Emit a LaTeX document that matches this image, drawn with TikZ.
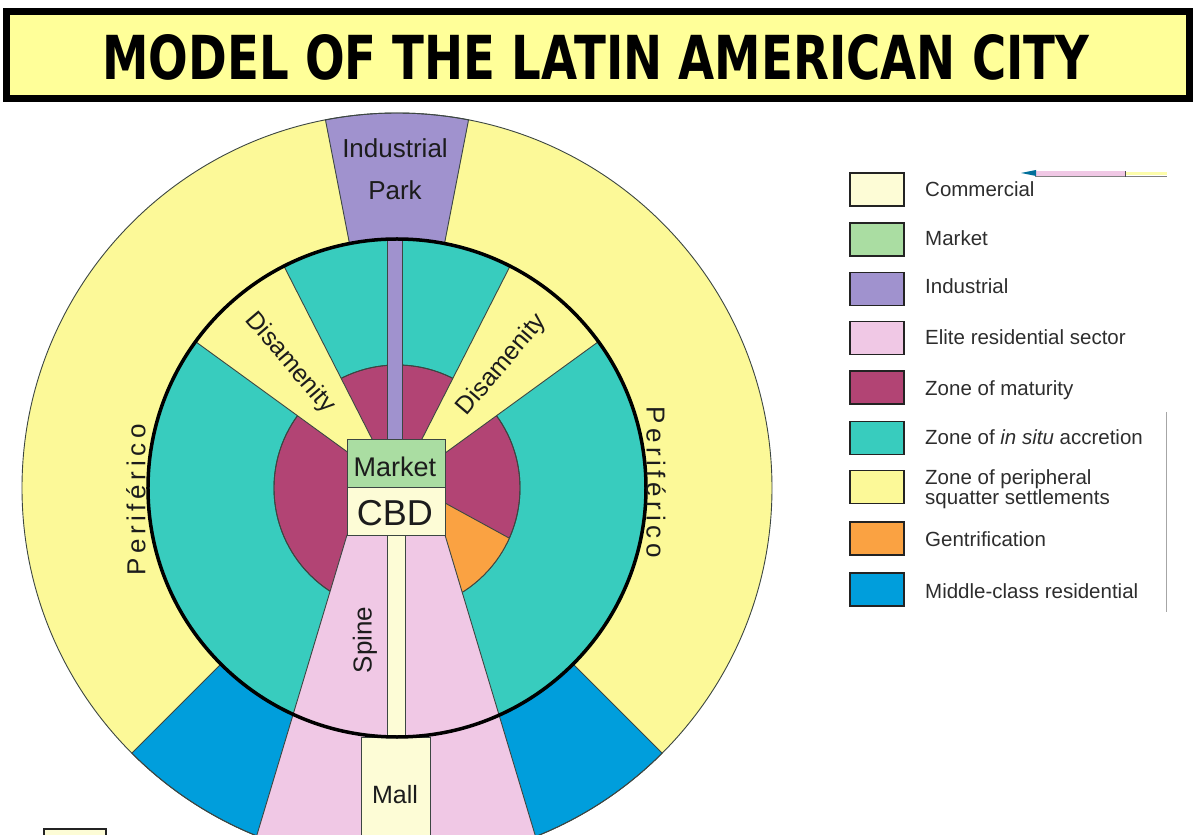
\documentclass[tikz,border=0pt]{standalone}
\usepackage{fontspec}
\usepackage{graphicx}
\setmainfont{Liberation Sans}
\newfontfamily\titlefont{DejaVu Sans}
\definecolor{titleyellow}{RGB}{255,255,153}
\definecolor{ringyellow}{RGB}{252,249,152}
\definecolor{industrial}{RGB}{160,146,206}
\definecolor{middleblue}{RGB}{0,158,220}
\definecolor{insitu}{RGB}{56,204,190}
\definecolor{maturity}{RGB}{178,68,116}
\definecolor{gentri}{RGB}{250,162,66}
\definecolor{elite}{RGB}{240,200,229}
\definecolor{commercial}{RGB}{253,252,214}
\definecolor{market}{RGB}{170,221,162}
\definecolor{edgecol}{RGB}{60,70,66}
\definecolor{labcol}{RGB}{28,28,28}
\definecolor{legcol}{RGB}{45,45,45}
\definecolor{legedge}{RGB}{35,35,35}
\begin{document}
\begin{tikzpicture}[x=1pt,y=1pt,
  edge/.style={draw=edgecol, line width=0.9pt},
  zonelabel/.style={text=labcol, inner sep=0pt},
  legbox/.style={draw=legedge, line width=1.8pt, minimum width=54pt, minimum height=33pt, inner sep=0pt},
  legtext/.style={text=legcol, anchor=base west, inner sep=0pt, font=\fontsize{20.5}{24}\selectfont}]
\path[use as bounding box] (-397,-347) rectangle (800,488);
\clip (-397,-347) rectangle (800,488);
% title
\node[draw=black, line width=7pt, fill=titleyellow, minimum width=1183pt, minimum height=87pt, inner sep=0pt] (titlebox) at (201,433) {};
\node[inner sep=0pt] (title) at (199,430.5) {\resizebox{987pt}{45pt}{\titlefont\bfseries MODEL OF THE LATIN AMERICAN CITY}};
% outer ring
\fill[ringyellow] (0,0) circle (375);
\filldraw[fill=industrial, edge] (0,0) -- (101:375) arc[start angle=101, end angle=79, radius=375] -- cycle;
\filldraw[fill=middleblue, edge] (0,0) -- (225:375) arc[start angle=225, end angle=315, radius=375] -- cycle;
\draw[edge] (0,0) circle (375);
% inner disk
\fill[insitu] (0,0) circle (249);
\filldraw[fill=maturity, edge] (0,0) circle (123);
\begin{scope}
  \clip (0,0) circle (123);
  \filldraw[fill=gentri, edge] (48,-15) -- (176,-85) -- (176,-300) -- (48,-300) -- cycle;
\end{scope}
\draw[edge] (0,0) circle (123);
% disamenity wedges
\filldraw[fill=ringyellow, edge] (0,0) -- (36:249) arc[start angle=36, end angle=63, radius=249] -- cycle;
\filldraw[fill=ringyellow, edge] (0,0) -- (117:249) arc[start angle=117, end angle=144, radius=249] -- cycle;
% industrial strip
\filldraw[fill=industrial, edge] (-10,49) rectangle (5,248.5);
% elite sector
\filldraw[fill=elite, edge] (-50,-47) -- (48,-47) -- (139,-350) -- (-141,-350) -- cycle;
% spine and mall
\filldraw[fill=commercial, edge] (-10,-47) rectangle (8,-249);
\filldraw[fill=commercial, edge] (-36,-249) rectangle (33,-360);
% thick inner boundary
\draw[black, line width=3.5pt] (0,0) circle (249);
% market and CBD boxes
\node[draw=edgecol, fill=market, line width=0.9pt, minimum width=98pt, minimum height=48pt, inner sep=0pt] (marketbox) at (-1,25) {};
\node[draw=edgecol, fill=commercial, line width=0.9pt, minimum width=98pt, minimum height=48pt, inner sep=0pt] (cbdbox) at (-1,-23) {};
% labels
\node[zonelabel, font=\fontsize{26}{30}\selectfont] (indlbl) at (-2,340) {Industrial};
\node[zonelabel, font=\fontsize{26}{30}\selectfont] (parklbl) at (-2,298) {Park};
\node[zonelabel, font=\fontsize{27}{30}\selectfont] (marketlbl) at (-2,21) {Market};
\node[zonelabel, font=\fontsize{36}{40}\selectfont] (cbdlbl) at (-2,-25) {CBD};
\node[zonelabel, font=\fontsize{26}{30}\selectfont, rotate=90] (spinelbl) at (-32,-152) {Spine};
\node[zonelabel, font=\fontsize{25}{30}\selectfont] (malllbl) at (-2,-307) {Mall};
\node[zonelabel, font=\fontsize{25}{30}\selectfont, rotate=-49.5] (disl) at (-107,125) {Disamenity};
\node[zonelabel, font=\fontsize{25}{30}\selectfont, rotate=49.5] (disr) at (105,123) {Disamenity};
\node[zonelabel, font=\fontsize{26}{30}\selectfont\addfontfeature{LetterSpace=18}, rotate=90] (perl) at (-261,-12) {Periférico};
\node[zonelabel, font=\fontsize{26}{30}\selectfont\addfontfeature{LetterSpace=18}, rotate=-90] (perr) at (259,6) {Periférico};
% legend
\node[legbox, fill=commercial] (lb1) at (480,298.5) {};
\node[legbox, fill=market] (lb2) at (480,248.5) {};
\node[legbox, fill=industrial] (lb3) at (480,199) {};
\node[legbox, fill=elite] (lb4) at (480,150) {};
\node[legbox, fill=maturity] (lb5) at (480,100.5) {};
\node[legbox, fill=insitu] (lb6) at (480,50) {};
\node[legbox, fill=ringyellow] (lb7) at (480,1) {};
\node[legbox, fill=gentri] (lb8) at (480,-50.5) {};
\node[legbox, fill=middleblue] (lb9) at (480,-101.5) {};
\node[legtext] (lt1) at (528,291) {Commercial};
\node[legtext] (lt2) at (528,242) {Market};
\node[legtext] (lt3) at (528,194) {Industrial};
\node[legtext] (lt4) at (528,143) {Elite residential sector};
\node[legtext] (lt5) at (528,92) {Zone of maturity};
\node[legtext] (lt6) at (528,43) {Zone of \textit{in situ} accretion};
\node[legtext] (lt7a) at (528,3) {Zone of peripheral};
\node[legtext] (lt7b) at (528,-17) {squatter settlements};
\node[legtext] (lt8) at (528,-59) {Gentrification};
\node[legtext] (lt9) at (528,-110) {Middle-class residential};
% stray marks
\draw[gray!70, line width=0.7pt] (769,76) -- (769,-124);
\fill[elite] (638,312) rectangle (728,316.5);
\fill[commercial!80!yellow] (728,312.5) rectangle (770,316);
\draw[gray, line width=0.8pt] (638,312) -- (770,312);
\draw[gray!60!black, line width=0.8pt] (728,311) -- (728,317);
\fill[middleblue!70!black] (624,315) -- (639,318) -- (639,312) -- cycle;
\filldraw[fill=commercial, draw=legedge, line width=1.8pt] (-353,-341) rectangle (-291,-360);
\end{tikzpicture}
\end{document}
